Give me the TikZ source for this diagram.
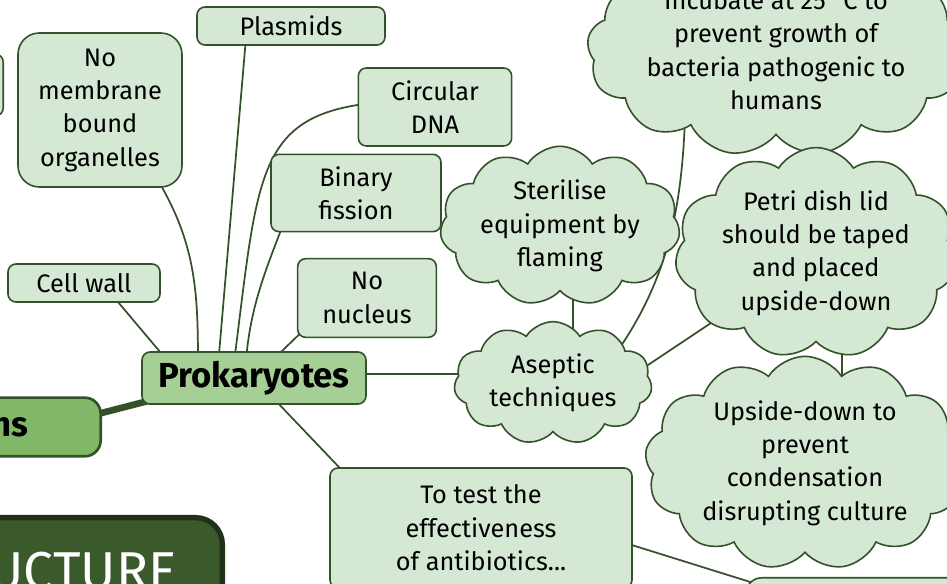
\documentclass[tikz,border=0pt]{standalone}
\usepackage{fontspec}
\setmainfont{Fira Sans}
\usetikzlibrary{shapes.symbols}
\usetikzlibrary{backgrounds}
\definecolor{leaf}{HTML}{D5E8D4}
\definecolor{stem}{HTML}{34512B}
\definecolor{prokfill}{HTML}{A6CF96}
\definecolor{branch}{HTML}{80B868}
\definecolor{root}{HTML}{3B5A2C}
\definecolor{rootline}{HTML}{1F3217}
\newcommand{\leaffont}{\fontsize{19}{25}\selectfont}

\begin{document}
\begin{tikzpicture}[x=0.75pt, y=-0.75pt, line width=1.2pt]
  \tikzset{leafbox/.style = {draw=stem, fill=leaf, rectangle, rounded corners=6pt, align=center, font=\leaffont, inner sep=0pt}}
  \tikzset{cloudbox/.style = {draw=stem, fill=leaf, cloud, cloud puffs=11, cloud puff arc=115, cloud ignores aspect, align=center, font=\leaffont, inner sep=0pt}}
  \tikzset{link/.style = {draw=stem, line width=1.3pt}}
  \useasboundingbox (0,0) rectangle (947,584);
  \clip (0,0) rectangle (947,584);

  % boxes round the centre
  \node[name = prok, leafbox, fill=prokfill, minimum width=168pt, minimum height=39pt, font=\fontsize{26}{30}\selectfont\bfseries] at (254,378) {Prokaryotes};
  \node[name = plas, leafbox, minimum width=141pt, minimum height=28.5pt] at (291,26) {Plasmids};
  \node[name = nomem, leafbox, rounded corners=16pt, minimum width=123pt, minimum height=115.5pt] at (100,110) {No\\membrane\\bound\\organelles};
  \node[name = circ, leafbox, minimum width=115pt, minimum height=58.5pt] at (435,107) {Circular\\DNA};
  \node[name = binfis, leafbox, minimum width=127.5pt, minimum height=58pt] at (356,193) {Binary\\fission};
  \node[name = cellw, leafbox, minimum width=114pt, minimum height=28.5pt] at (84,283) {Cell wall};
  \node[name = nonuc, leafbox, minimum width=104pt, minimum height=59pt] at (367,298) {No\\nucleus};
  \node[name = totest, leafbox, minimum width=226.5pt, minimum height=90pt] at (481,528) {To test the\\effectiveness\\of antibiotics...};

  % clouds
  \node[name = asep, cloudbox, minimum width=148.5pt, minimum height=92pt] at (553,383) {Aseptic\\techniques};
  \node[name = steril, cloudbox, minimum width=180pt, minimum height=111pt] at (560,226) {Sterilise\\equipment by\\flaming};
  \node[name = incub, cloudbox, cloud puffs=13, minimum width=256pt, minimum height=140pt] at (776,50) {Incubate at 25\,°C to\\prevent growth of\\bacteria pathogenic to\\humans};
  \node[name = petri, cloudbox, minimum width=186pt, minimum height=132pt] at (816,253) {Petri dish lid\\should be taped\\and placed\\upside-down};
  \node[name = upside, cloudbox, cloud puffs=13, minimum width=240pt, minimum height=160pt] at (805,463) {Upside-down to\\prevent\\condensation\\disrupting culture};

  % cut at the frame
  \node[name = euk, leafbox, fill=branch, rounded corners=12pt, line width=2pt, anchor=east, inner xsep=54pt, minimum height=44pt, font=\fontsize{26}{30}\selectfont\bfseries] at (102,427) {ns};
  \node[name = struct, draw=rootline, fill=root, rounded corners=20pt, line width=4pt, anchor=north east, inner xsep=34pt, inner ysep=26pt, text=white, font=\fontsize{40}{44}\selectfont] at (225,515) {UCTURE};
  \node[name = lnode, leafbox, anchor=east, minimum width=67.5pt, minimum height=46.5pt] at (4,85) {};
  \node[name = brnode, leafbox, rounded corners=12pt, anchor=north west, minimum width=195pt, minimum height=45pt] at (745,577) {};

  \begin{scope}[on background layer]
    \draw[link] ([xshift=-27.75pt]prok.center) -- ([xshift=-33pt]plas.center);
    \draw[link] ([xshift=-42pt]prok.center) to[out=90, in=-60] ([xshift=45pt, yshift=3pt]nomem.south);
    \draw[link] ([xshift=-54pt]prok.center) -- ([xshift=13.5pt]cellw.center);
    \draw[link] ([xshift=-16.5pt]prok.center) .. controls (262,150) and (250,100) .. ([yshift=5pt]circ.center);
    \draw[link] ([xshift=-6.75pt]prok.center) to[out=88, in=-110] ([xshift=-45.75pt]binfis.center);
    \draw[link] (prok.center) -- ([xshift=-35pt, yshift=-12pt]nonuc.center);
    \draw[link] ([yshift=3pt]prok.center) -- ([yshift=3pt]prok.center -| asep.center);
    \draw[link] (prok.center) -- ([xshift=-83pt, yshift=21pt]totest.center);
    \draw[link, line width=5pt] ([xshift=10pt, yshift=-16pt]prok.west) -- ([xshift=-10pt, yshift=8pt]euk.east);

    \draw[link] ([xshift=15pt]asep.center) -- ([xshift=15pt]asep.center |- steril.center);
    \draw[link] ([xshift=30pt]asep.center) to[out=50, in=-90] ([xshift=-67.5pt]incub.center);
    \draw[link] ([yshift=-34pt]asep.center) -- (petri.center);
    \draw[link] ([xshift=19.5pt]petri.center) -- ([xshift=19.5pt]petri.center |- upside.center);
    \draw[link] ([yshift=22.5pt]totest.center) -- ([yshift=-10pt]brnode.center);
  \end{scope}
\end{tikzpicture}
\end{document}
